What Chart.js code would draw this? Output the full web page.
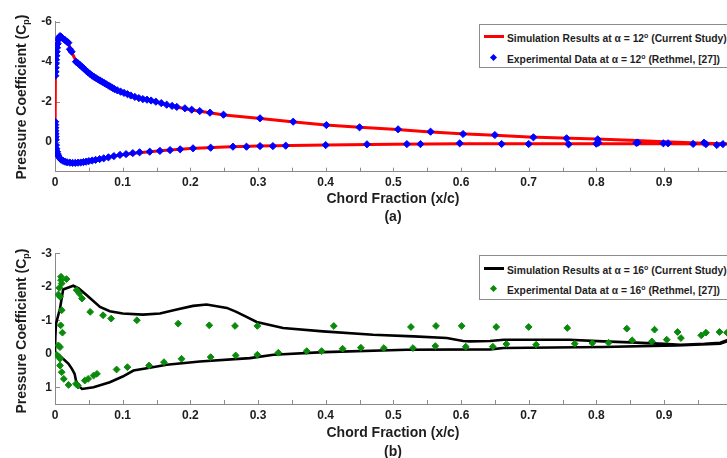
<!DOCTYPE html>
<html><head><meta charset="utf-8">
<script src="https://cdn.jsdelivr.net/npm/chart.js@4"></script>
<style>
html,body{margin:0;padding:0;background:#fff;}
body{width:727px;height:458px;overflow:hidden;position:relative;font-family:"Liberation Sans",Arial,Helvetica,sans-serif;color:#1e1e1e;}
canvas{position:absolute;left:0;}
.t{position:absolute;font-weight:bold;font-size:14px;white-space:nowrap;line-height:1;}
.xt{transform:translate(-50%,-50%);}
.yt{transform:translate(-50%,-50%) rotate(-90deg);}
.yt sub{font-size:9px;vertical-align:-3px;}
.leg{position:absolute;left:479px;width:252px;height:42px;border:1px solid #8c8c8c;background:#fff;font-weight:bold;font-size:10.3px;white-space:nowrap;}
.leg .row{position:absolute;left:27px;line-height:1;}
.leg sup{font-size:7px;vertical-align:4px;}
.leg .ln{position:absolute;left:4px;width:20px;height:3px;}
.leg .mk{position:absolute;width:5px;height:5px;transform:rotate(45deg);}
</style></head>
<body>
<canvas id="cA" width="740" height="230" style="top:0;width:740px;height:230px"></canvas>
<canvas id="cB" width="740" height="228" style="top:230px;width:740px;height:228px"></canvas>

<div class="t yt" style="left:22px;top:97px">Pressure Coefficient (C<sub>p</sub>)</div>
<div class="t xt" style="left:393px;top:198px">Chord Fraction (x/c)</div>
<div class="t xt" style="left:393px;top:216px">(a)</div>
<div class="leg" style="top:24px">
  <div class="ln" style="top:10px;background:#ff0000"></div>
  <div class="row" style="top:7px">Simulation Results at &alpha; = 12<sup>o</sup> (Current Study)</div>
  <div class="mk" style="left:11px;top:30px;background:#0000ff"></div>
  <div class="row" style="top:28px">Experimental Data at &alpha; = 12<sup>o</sup> (Rethmel, [27])</div>
</div>

<div class="t yt" style="left:22px;top:331px">Pressure Coefficient (C<sub>p</sub>)</div>
<div class="t xt" style="left:393px;top:432px">Chord Fraction (x/c)</div>
<div class="t xt" style="left:393px;top:451px">(b)</div>
<div class="leg" style="top:255px;height:43px">
  <div class="ln" style="top:11px;background:#000"></div>
  <div class="row" style="top:8px">Simulation Results at &alpha; = 16<sup>o</sup> (Current Study)</div>
  <div class="mk" style="left:11px;top:30px;background:#0a8a0a"></div>
  <div class="row" style="top:28px">Experimental Data at &alpha; = 16<sup>o</sup> (Rethmel, [27])</div>
</div>

<script>
// ---------- tick definitions ----------
const xTickValues = [0,0.05,0.1,0.15,0.2,0.25,0.3,0.35,0.4,0.45,0.5,0.55,0.6,0.65,0.7,0.75,0.8,0.85,0.9,0.95,1.0];
const xTickLabels = ['0','','0.1','','0.2','','0.3','','0.4','','0.5','','0.6','','0.7','','0.8','','0.9','',''];
const yTicksA = [-6,-4,-2,0];
const yTicksB = [-3,-2,-1,0,1];

// ---------- (a) alpha = 12 deg ----------
const simA_x  = [1.0,0.95,0.9,0.85,0.8,0.75,0.7,0.65,0.6,0.55,0.5,0.45,0.4,0.35,0.3,0.25,0.2,0.17,0.15,0.13,0.11,0.09,0.07,0.055,0.04,0.03,0.025,0.02,0.015,0.0105,0.0074,0.005,0.003,0.0015,0.0006,0.0002,0,0,
                 0.0015,0.003,0.006,0.009,0.013,0.02,0.03,0.04,0.05,0.06,0.07,0.08,0.09,0.1,0.12,0.14,0.16,0.18,0.2,0.25,0.3,0.35,0.4,0.5,0.6,0.7,0.8,0.9,1.0];
const simA_cp = [0.12,0.07,0.0,-0.07,-0.13,-0.18,-0.24,-0.32,-0.4,-0.5,-0.62,-0.72,-0.84,-1.0,-1.17,-1.34,-1.6,-1.8,-1.97,-2.14,-2.32,-2.6,-2.98,-3.3,-3.72,-4.1,-4.45,-4.9,-5.08,-5.18,-5.26,-5.05,-4.6,-4.0,-3.3,-2.0,-0.6,0,
                 0.25,0.5,0.75,0.9,0.98,1.04,1.05,1.02,0.97,0.91,0.84,0.77,0.7,0.65,0.57,0.5,0.44,0.39,0.34,0.26,0.21,0.19,0.17,0.13,0.1,0.1,0.1,0.1,0.12];

const expA_x  = [0.0005,0.0008,0.001,0.0012,0.0015,0.002,0.0025,0.003,0.004,0.005,0.006,0.0074,0.009,0.011,0.0148,0.0175,0.0197,0.022,0.0246,
                 0.031,0.034,0.037,0.040,0.043,0.046,0.049,0.052,0.055,0.058,0.061,0.064,0.067,0.070,0.073,0.076,0.079,0.082,0.085,0.088,0.092,0.097,
                 0.102,0.107,0.112,0.118,0.124,0.130,0.136,0.142,0.149,0.157,0.165,0.173,0.180,0.192,0.202,0.214,0.229,0.249,
                 0.303,0.352,0.401,0.450,0.507,0.555,0.603,0.650,0.707,0.756,0.802,
                 0.0003,0.0004,0.0005,0.0006,0.0008,0.001,0.0012,0.0015,0.002,0.003,0.004,0.005,0.007,0.009,0.012,0.015,0.018,0.022,0.026,0.030,
                 0.034,0.038,0.042,0.046,0.050,0.055,0.060,0.066,0.072,0.079,0.087,0.096,0.105,0.115,0.125,0.140,0.155,0.170,0.185,0.204,0.230,
                 0.263,0.283,0.303,0.322,0.341,0.400,0.461,0.520,0.540,0.598,0.660,0.700,0.759,0.800,0.803,0.859,0.861,0.899,0.906,0.943,0.959,
                 0.962,0.978,0.987];
const expA_cp = [-3.3,-3.5,-3.7,-3.9,-4.1,-4.3,-4.5,-4.7,-4.9,-5.1,-5.2,-5.28,-5.25,-5.18,-5.08,-5.0,-4.95,-4.62,-4.5,
                 -4.0,-3.92,-3.83,-3.74,-3.65,-3.55,-3.46,-3.38,-3.3,-3.23,-3.17,-3.11,-3.05,-2.99,-2.93,-2.87,-2.81,-2.75,-2.69,-2.63,-2.57,-2.5,
                 -2.44,-2.38,-2.31,-2.24,-2.18,-2.13,-2.1,-2.06,-2.0,-1.93,-1.85,-1.79,-1.74,-1.67,-1.6,-1.53,-1.45,-1.35,
                 -1.17,-1.0,-0.83,-0.72,-0.62,-0.5,-0.385,-0.335,-0.22,-0.17,-0.12,
                 -1.0,-0.85,-0.7,-0.55,-0.4,-0.25,-0.1,0.17,0.35,0.5,0.62,0.72,0.82,0.9,0.96,1.0,1.03,1.05,1.06,1.06,
                 1.05,1.04,1.02,1.0,0.97,0.94,0.91,0.87,0.83,0.78,0.72,0.66,0.62,0.57,0.53,0.5,0.46,0.42,0.38,0.33,0.3,
                 0.25,0.25,0.22,0.22,0.2,0.17,0.13,0.12,0.12,0.08,0.115,0.115,0.13,0.1,0.05,0.06,0.04,0.08,0.08,0.11,0.05,
                 0.12,0.165,0.12];

// ---------- (b) alpha = 16 deg ----------
const simB_x  = [1.0,0.993,0.983,0.96,0.924,0.9,0.85,0.81,0.76,0.663,0.643,0.613,0.603,0.579,0.53,0.47,0.396,0.337,0.298,0.283,0.268,0.254,0.224,0.204,0.18,0.155,0.13,0.1,0.081,0.0665,0.047,0.035,0.027,0.012,0.0074,0.0015,0.0005,0,0,
                 0.005,0.012,0.02,0.025,0.029,0.031,0.034,0.04,0.057,0.081,0.1,0.116,0.14,0.165,0.214,0.288,0.323,0.397,0.52,0.643,0.663,0.81,0.919,0.983,1.0];
const simB_cp = [-0.42,-0.4,-0.33,-0.3,-0.27,-0.3,-0.34,-0.37,-0.42,-0.42,-0.38,-0.37,-0.38,-0.47,-0.52,-0.57,-0.67,-0.77,-0.95,-1.1,-1.25,-1.37,-1.47,-1.43,-1.32,-1.2,-1.17,-1.2,-1.27,-1.4,-1.75,-1.95,-2.03,-1.92,-1.35,-0.9,-0.5,-0.1,0,
                 0.05,0.15,0.3,0.45,0.6,0.8,0.95,1.05,1.0,0.85,0.68,0.5,0.42,0.33,0.23,0.13,0.03,-0.05,-0.12,-0.13,-0.17,-0.2,-0.25,-0.3,-0.42];

const expB_x  = [0.0089,0.0089,0.0099,0.0064,0.017,0.005,0.0074,0.0099,0.0084,0.011,0.0074,0.005,
                 0.032,0.036,0.040,0.052,0.071,0.083,0.121,0.182,0.228,0.266,0.299,0.412,0.526,0.563,0.601,0.652,0.700,0.757,0.845,0.886,
                 0.920,0.925,0.955,0.962,0.982,0.993,
                 0.0025,0.0064,0.0074,0.0074,0.0099,0.013,0.020,0.031,0.034,
                 0.044,0.049,0.057,0.062,0.091,0.107,0.139,0.161,0.187,0.230,0.267,0.299,0.330,0.372,0.394,0.425,0.452,0.486,0.529,0.562,
                 0.607,0.647,0.667,0.711,0.768,0.794,0.818,0.853,0.882,0.904];
const expB_cp = [-2.3,-2.2,-2.1,-1.97,-2.23,-1.77,-1.7,-1.3,-0.85,-0.63,-0.2,-0.25,
                 -1.9,-1.8,-1.65,-1.25,-1.15,-1.05,-1.0,-0.9,-0.85,-0.83,-0.83,-0.83,-0.8,-0.83,-0.83,-0.8,-0.8,-0.77,-0.75,-0.72,
                 -0.65,-0.47,-0.55,-0.63,-0.65,-0.63,
                 0.03,0.1,0.35,0.15,0.55,0.75,0.93,0.9,0.95,
                 0.8,0.75,0.65,0.6,0.47,0.4,0.35,0.25,0.15,0.1,0.05,0.03,-0.03,-0.08,-0.08,-0.15,-0.18,-0.17,-0.17,-0.23,
                 -0.21,-0.21,-0.29,-0.27,-0.3,-0.32,-0.33,-0.4,-0.37,-0.42];

// ---------- helpers ----------
const pts = (xs, ys) => xs.map((x, i) => ({x, y: ys[i]}));
const AXIS = '#8a8a8a';
const TXT = '#1e1e1e';
const FONT = {family: '"Liberation Sans", Arial, sans-serif', size: 12, weight: 'bold'};

const innerTicks = {
  id: 'innerTicks',
  beforeDatasetsDraw(chart) {
    const {ctx, chartArea: a, scales: {x, y}} = chart;
    ctx.save();
    ctx.strokeStyle = AXIS; ctx.lineWidth = 1;
    ctx.beginPath();
    x.ticks.forEach(t => { const p = Math.round(x.getPixelForValue(t.value)) + 0.5; ctx.moveTo(p, a.bottom); ctx.lineTo(p, a.bottom - 4); });
    y.ticks.forEach(t => { const p = Math.round(y.getPixelForValue(t.value)) + 0.5; ctx.moveTo(a.left, p); ctx.lineTo(a.left + 5, p); });
    ctx.stroke();
    ctx.restore();
  }
};

function makeChart(id, sim, exp, lineColor, lineW, markColor, markR, yMin, yMax, yTicks, padTop, xAxisH) {
  return new Chart(document.getElementById(id), {
    type: 'scatter',
    data: {
      datasets: [
        {data: sim, showLine: true, borderColor: lineColor, borderWidth: lineW, pointRadius: 0, tension: 0, order: 2, fill: false},
        {data: exp, showLine: false, pointStyle: 'rectRot', pointRadius: markR, backgroundColor: markColor, borderColor: markColor, borderWidth: 1, order: 1}
      ]
    },
    options: {
      responsive: false, animation: false, devicePixelRatio: 1,
      layout: {padding: {left: 0, right: 8.3, top: padTop, bottom: 0}},
      plugins: {legend: {display: false}, tooltip: {enabled: false}},
      scales: {
        x: {
          type: 'linear', min: 0, max: 1,
          afterBuildTicks: s => { s.ticks = xTickValues.map(v => ({value: v})); },
          afterFit: s => { s.height = xAxisH; },
          ticks: {callback: (v, i) => xTickLabels[i], font: FONT, color: TXT, padding: 4, maxRotation: 0, autoSkip: false},
          grid: {display: false, drawTicks: false},
          border: {display: true, color: AXIS, width: 1}
        },
        y: {
          type: 'linear', min: yMin, max: yMax, reverse: true,
          afterBuildTicks: s => { s.ticks = yTicks.map(v => ({value: v})); },
          afterFit: s => { s.width = 55; },
          ticks: {font: FONT, color: TXT, padding: 3, callback: v => String(v)},
          grid: {display: false, drawTicks: false},
          border: {display: true, color: AXIS, width: 1}
        }
      }
    },
    plugins: [innerTicks]
  });
}

makeChart('cA', pts(simA_x, simA_cp), pts(expA_x, expA_cp), '#ff0000', 3, '#0000ff', 3.6, -6, 1.5, yTicksA, 21.7, 58.3);
makeChart('cB', pts(simB_x, simB_cp), pts(expB_x, expB_cp), '#000000', 2.6, '#0a8a0a', 3.4, -3, 1.5, yTicksB, 23.3, 54);
</script>
</body></html>
